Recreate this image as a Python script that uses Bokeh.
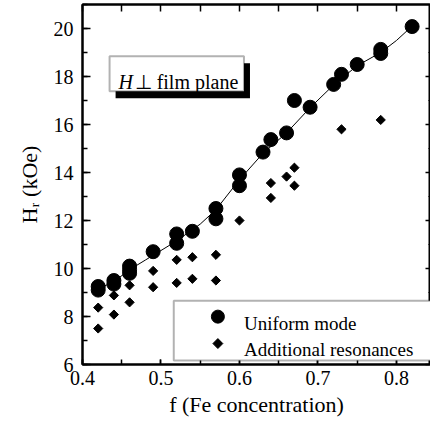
import math
from bokeh.plotting import figure
from bokeh.models import (LinearAxis, SingleIntervalTicker, Range1d, Label, BoxAnnotation,
                          CustomJSTickFormatter)
from bokeh.embed import file_html
from bokeh.resources import INLINE

# ---------------- data ----------------
uniform_f = [0.42, 0.42, 0.44, 0.44, 0.46, 0.46, 0.46, 0.49, 0.52, 0.52, 0.54,
             0.57, 0.57, 0.60, 0.60, 0.63, 0.64, 0.66, 0.67, 0.69, 0.72, 0.73,
             0.75, 0.78, 0.78, 0.82]
uniform_H = [9.25, 9.10, 9.50, 9.35, 10.10, 9.95, 9.80, 10.70, 11.44, 11.05, 11.55,
             12.50, 12.07, 13.90, 13.45, 14.85, 15.37, 15.65, 17.00, 16.72, 17.67, 18.09,
             18.50, 18.96, 19.13, 20.08]

extra_f = [0.42, 0.42, 0.44, 0.44, 0.46, 0.46, 0.49, 0.49, 0.52, 0.52, 0.54, 0.54,
           0.57, 0.57, 0.60, 0.64, 0.64, 0.66, 0.67, 0.67, 0.73, 0.78]
extra_H = [8.37, 7.50, 8.88, 8.08, 9.30, 8.59, 9.90, 9.22, 10.36, 9.40, 10.47, 9.57,
           10.57, 9.50, 12.00, 13.56, 12.94, 13.83, 14.20, 13.45, 15.80, 16.19]

fit_f = [0.42, 0.44, 0.46, 0.48, 0.50, 0.52, 0.55, 0.57, 0.60, 0.63, 0.66,
         0.69, 0.72, 0.75, 0.78, 0.80, 0.82]
fit_H = [9.15, 9.45, 9.95, 10.35, 10.75, 11.15, 11.85, 12.45, 13.70, 14.80, 15.65,
         16.70, 17.65, 18.45, 19.00, 19.50, 20.10]

x_label = "f (Fe concentration)"
y_label = "H\u1d63 (kOe)"
legend_labels = ["Uniform mode", "Additional resonances"]
box_italic = "H"
box_rest = "\u22a5 film plane"

# ---------------- layout helpers (picture px -> data units) ----------------
X0, X1 = 0.4, 0.8434
Y0, Y1 = 6.0, 21.0
FL, FR, FT, FB = 82, 429, 3, 364


def px(x):
    return X0 + (x - FL) * (X1 - X0) / (FR - FL)


def py(y):
    return Y0 + (FB - y) * (Y1 - Y0) / (FB - FT)


SERIF = "'Liberation Serif', serif"
blank = CustomJSTickFormatter(code="return ''")

p = figure(width=430, height=422, x_range=Range1d(X0, X1), y_range=Range1d(Y0, Y1),
           output_backend="svg", toolbar_location=None,
           min_border_left=82, min_border_right=0, min_border_top=3, min_border_bottom=58)
p.grid.visible = False
p.outline_line_color = "black"
p.outline_line_width = 2
p.background_fill_color = "white"
p.border_fill_color = "white"

# bottom axis
xa = p.xaxis[0]
xa.ticker = SingleIntervalTicker(interval=0.1, num_minor_ticks=2)
xa.major_tick_in = 5
xa.major_tick_out = 0
xa.minor_tick_in = 5
xa.minor_tick_out = 0
xa.axis_line_width = 2
xa.major_tick_line_width = 1.5
xa.minor_tick_line_width = 1.5
xa.major_label_text_font = SERIF
xa.major_label_text_font_size = "20px"
xa.major_label_text_color = "black"
xa.major_label_standoff = 6
xa.axis_label = x_label
xa.axis_label_text_font = SERIF
xa.axis_label_text_font_size = "22px"
xa.axis_label_text_font_style = "normal"
xa.axis_label_text_color = "black"
xa.axis_label_standoff = 4

# left axis
ya = p.yaxis[0]
ya.ticker = SingleIntervalTicker(interval=2, num_minor_ticks=2)
ya.major_tick_in = 8
ya.major_tick_out = 0
ya.minor_tick_in = 5
ya.minor_tick_out = 0
ya.axis_line_width = 2
ya.major_tick_line_width = 1.5
ya.minor_tick_line_width = 1.5
ya.major_label_text_font = SERIF
ya.major_label_text_font_size = "20px"
ya.major_label_text_color = "black"
ya.major_label_standoff = 9
ya.axis_label = y_label
ya.axis_label_text_font = SERIF
ya.axis_label_text_font_size = "22px"
ya.axis_label_text_font_style = "normal"
ya.axis_label_text_color = "black"
ya.axis_label_standoff = 9

# top axis (ticks only)
ta = LinearAxis(ticker=SingleIntervalTicker(interval=0.05, num_minor_ticks=2),
                formatter=blank,
                major_tick_in=7, major_tick_out=0, minor_tick_line_color=None,
                major_label_standoff=0, axis_line_width=2, major_tick_line_width=1.5)
p.add_layout(ta, "above")

# right axis (ticks only)
ra = LinearAxis(ticker=SingleIntervalTicker(interval=2, num_minor_ticks=2),
                formatter=blank,
                major_tick_in=5, major_tick_out=0, minor_tick_in=2, minor_tick_out=0,
                major_label_standoff=0, axis_line_width=2, major_tick_line_width=1.5,
                minor_tick_line_width=1)
p.add_layout(ra, "right")

# data
p.line(fit_f, fit_H, line_color="black", line_width=1)
p.scatter(extra_f, extra_H, marker="square", size=6.5, angle=math.pi / 4,
          fill_color="black", line_color="black")
p.scatter(uniform_f, uniform_H, marker="circle", size=14,
          fill_color="black", line_color="black")

# annotation box with shadow
p.add_layout(BoxAnnotation(left=px(115), right=px(249), top=py(62), bottom=py(97),
                           fill_color="black", fill_alpha=1, line_color=None))
p.add_layout(BoxAnnotation(left=px(109), right=px(243), top=py(55), bottom=py(90),
                           fill_color="white", fill_alpha=1, line_color="black", line_width=2))
p.add_layout(Label(x=px(118), y=py(81), text=box_italic, text_font=SERIF,
                   text_font_size="20px", text_font_style="italic", text_color="black",
                   text_align="left", text_baseline="alphabetic"))
p.add_layout(Label(x=px(134), y=py(81), text=box_rest, text_font=SERIF,
                   text_font_size="20px", text_color="black",
                   text_align="left", text_baseline="alphabetic"))

# legend (manual)
p.add_layout(BoxAnnotation(left=px(173), right=px(470), top=py(300), bottom=py(360),
                           fill_color="white", fill_alpha=1, line_color="black", line_width=2))
rc = p.scatter([px(217)], [py(316)], marker="circle", size=13,
               fill_color="black", line_color="black")
rc.level = "overlay"
rd = p.scatter([px(217)], [py(343)], marker="square", size=7, angle=math.pi / 4,
               fill_color="black", line_color="black")
rd.level = "overlay"
p.add_layout(Label(x=px(243), y=py(323), text=legend_labels[0], text_font=SERIF,
                   text_font_size="19px", text_color="black",
                   text_align="left", text_baseline="alphabetic"))
p.add_layout(Label(x=px(243), y=py(349), text=legend_labels[1], text_font=SERIF,
                   text_font_size="19px", text_color="black",
                   text_align="left", text_baseline="alphabetic"))

open("out.html", "w").write(file_html(p, INLINE))
